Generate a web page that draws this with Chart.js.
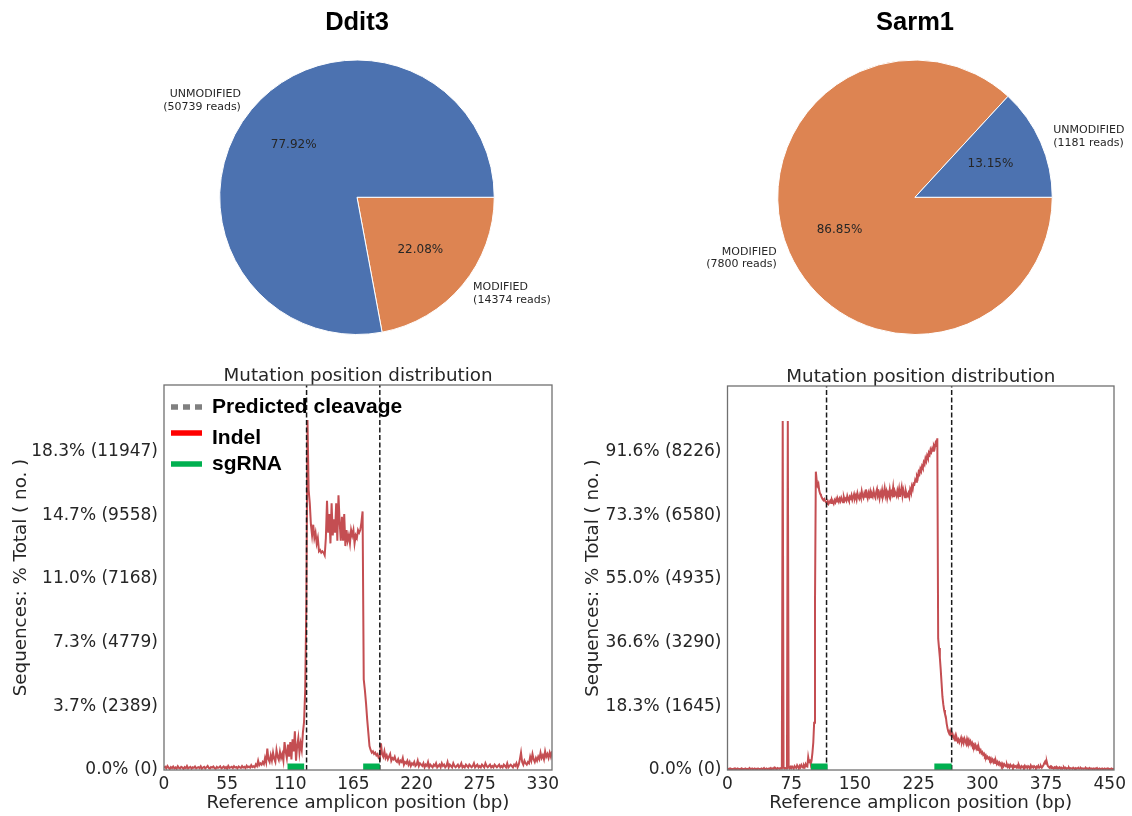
<!DOCTYPE html>
<html><head><meta charset="utf-8">
<script src="https://cdn.jsdelivr.net/npm/chart.js@4.4.1/dist/chart.umd.min.js"></script>
<style>
html,body{margin:0;padding:0;background:#fff;}
#wrap{position:relative;width:1132px;height:816px;overflow:hidden;background:#fff;}
canvas{position:absolute;}
</style></head><body>
<div id="wrap">
<canvas id="pieDdit3" width="416" height="345" style="left:150px;top:0px"></canvas>
<canvas id="pieSarm1" width="442" height="345" style="left:690px;top:0px"></canvas>
<canvas id="lineDdit3" width="570" height="461" style="left:0px;top:355px"></canvas>
<canvas id="lineSarm1" width="562" height="461" style="left:570px;top:355px"></canvas>
</div>
<script>
// ---------------- DATA ----------------
const geneNames = ['Ddit3', 'Sarm1'];
const pieCategories = ['MODIFIED', 'UNMODIFIED'];
const ddit3Reads = [14374, 50739];
const sarm1Reads = [7800, 1181];

const lineTitle = 'Mutation position distribution';
const xAxisTitle = 'Reference amplicon position (bp)';
const yAxisTitle = 'Sequences: % Total ( no. )';
const legendLabels = ['Predicted cleavage', 'Indel', 'sgRNA'];

// Ddit3 amplicon (338 bp)
const ddit3AmpliconLength = 338;
const ddit3XTicks = [0, 55, 110, 165, 220, 275, 330];
const ddit3YTicks = [0, 2389, 4779, 7168, 9558, 11947];
const ddit3YTickLabels = ['0.0% (0)', '3.7% (2389)', '7.3% (4779)', '11.0% (7168)', '14.7% (9558)', '18.3% (11947)'];
const ddit3YMax = 14441;
const ddit3Cuts = [124.2, 188];
const ddit3Guides = [[107.6, 122.1], [173.5, 188]];
const ddit3Indel = [
 80,120,60,150,90,40,110,70,130,60,
 100,50,140,80,60,120,90,40,110,70,
 150,60,90,120,50,100,80,130,60,90,
 110,70,140,50,90,120,60,100,150,80,
 60,110,90,130,70,50,120,80,100,140,
 60,90,130,70,110,50,150,80,100,120,
 70,140,90,110,60,130,100,80,150,90,
 120,70,160,100,130,90,180,110,140,100,
 210,150,350,180,250,200,300,220,450,280,
 800,400,300,550,350,650,420,300,750,500,
 380,680,450,600,350,1050,700,450,950,500,
 1050,400,1150,700,1450,350,900,1200,650,1000,
 750,1400,1800,3000,6200,13128,10500,10000,9200,8800,
 9200,8700,8900,8500,8700,8200,8250,8150,8200,8150,
 8050,8700,10100,8900,9600,8500,10000,8800,9400,8900,
 10000,8600,10300,9300,8600,9500,8600,9600,8400,9000,
 8600,8800,8500,9000,8800,9000,8500,8800,8700,9000,
 8900,9000,9300,9700,3400,3000,2500,1900,1400,900,
 750,650,700,600,650,550,600,450,400,1000,
 600,500,700,450,550,400,500,600,350,450,
 400,500,350,300,400,250,350,300,450,200,
 300,250,350,200,300,150,250,200,300,150,
 200,350,150,250,200,150,250,100,200,150,
 300,100,200,150,100,200,150,250,100,150,
 200,100,250,150,200,100,150,300,100,200,
 150,100,250,150,100,150,200,100,150,250,
 100,150,100,200,150,100,200,150,100,150,
 250,100,150,200,100,150,100,200,150,100,
 250,150,100,150,200,100,150,100,200,150,
 100,150,200,100,150,100,200,150,100,250,
 100,150,200,150,100,200,150,250,100,200,
 400,650,300,200,350,250,200,300,250,500,
 350,600,400,300,450,350,500,400,650,450,
 550,400,700,500,600,450,650,500,700
];

// Sarm1 amplicon (455 bp)
const sarm1AmpliconLength = 455;
const sarm1XTicks = [0, 75, 150, 225, 300, 375, 450];
const sarm1YTicks = [0, 1645, 3290, 4935, 6580, 8226];
const sarm1YTickLabels = ['0.0% (0)', '18.3% (1645)', '36.6% (3290)', '55.0% (4935)', '73.3% (6580)', '91.6% (8226)'];
const sarm1YMax = 9923;
const sarm1Cuts = [116.6, 263.9];
const sarm1Guides = [[98.2, 117.8], [243.5, 263.9]];
const sarm1Indel = [
 20,30,20,40,20,30,20,30,40,20,
 30,20,40,30,20,30,20,40,30,20,
 30,40,20,30,20,30,50,20,30,40,
 20,30,40,20,30,20,40,30,20,30,
 40,20,30,50,20,30,40,20,30,40,
 30,50,20,40,30,60,30,40,20,50,
 40,30,50,40,60,9021,60,40,50,40,
 50,9021,60,40,80,50,90,60,40,100,
 70,50,120,80,60,110,70,130,90,60,
 120,80,150,100,90,330,200,280,150,250,
 450,710,1220,4300,7710,7480,7350,7400,7220,7140,
 7100,7040,7000,6970,7000,6950,6920,6900,6950,6880,
 6920,6960,6900,6980,6930,6880,6970,6920,7000,6940,
 6990,6930,7010,6950,7040,6980,6920,7050,6970,7010,
 6960,7080,7000,6950,7060,7020,7100,6980,7050,7130,
 7020,7090,6990,7150,7060,7010,7110,7040,7200,7080,
 7030,7140,7060,7250,7100,7020,7160,7080,7190,7050,
 7130,7070,7210,7100,7040,7180,7260,7090,7150,7020,
 7170,7100,7230,7060,7140,7280,7090,7190,7030,7160,
 7100,7250,7070,7180,7120,7300,7050,7200,7140,7080,
 7220,7110,7260,7060,7190,7310,7090,7240,7150,7050,
 7200,7110,7080,7150,7060,7250,7180,7330,7250,7400,
 7380,7500,7450,7600,7550,7700,7650,7780,7720,7850,
 7800,7950,7900,8050,7980,8120,8060,8200,8150,8280,
 8220,8310,8250,8380,8330,8450,8400,8570,3400,3150,
 2900,2600,2250,1900,1700,1550,1450,1380,1200,1080,
 990,940,1010,900,870,930,850,800,880,760,
 820,740,790,710,760,830,720,790,700,810,
 750,680,800,720,780,690,740,650,700,620,
 660,580,640,550,600,520,560,470,510,430,
 460,390,420,350,380,310,340,290,320,260,
 300,230,270,200,250,180,230,160,210,150,
 190,130,170,110,160,100,150,120,90,140,
 80,120,70,130,90,110,60,120,80,100,
 70,110,60,130,80,50,100,70,90,60,
 110,70,90,50,100,80,60,120,70,90,
 60,100,80,50,90,70,110,60,80,100,
 60,90,130,180,220,160,200,110,80,60,
 90,50,80,60,40,70,50,80,40,60,
 50,70,40,60,30,50,70,40,60,30,
 50,40,60,30,50,40,30,60,40,30,
 50,30,40,60,30,40,50,30,40,30,
 40,30,50,30,40,20,50,30,40,30,
 30,40,20,40,30,50,20,30,40,20,
 30,40,20,30,40,20,30,40,20,30,
 20,30,40,20,30,20
];

// ---------------- STYLE ----------------
const FONT = 'DejaVu Sans';
const BOLD_FONT = 'Liberation Sans';
const TEXT = '#262626';
const pieColors = ['#DD8452', '#4C72B0'];
const indelColor = '#C44E52';
const guideColor = '#00B050';
const cutColor = '#1a1a1a';
const legendColors = ['#808080', '#FF0000', '#00B050'];

Chart.defaults.font.family = FONT;
Chart.defaults.color = TEXT;

// ---------------- PLUGINS ----------------
const pieText = {
  id: 'pieText',
  afterDatasetsDraw(chart) {
    const ctx = chart.ctx;
    const ds = chart.data.datasets[0];
    const total = ds.data.reduce((a, b) => a + b, 0);
    const meta = chart.getDatasetMeta(0);
    meta.data.forEach((arc, i) => {
      const p = arc.getProps(['x', 'y', 'startAngle', 'endAngle', 'outerRadius'], true);
      const mid = (p.startAngle + p.endAngle) / 2;
      const c = Math.cos(mid), s = Math.sin(mid);
      ctx.save();
      ctx.fillStyle = TEXT;
      ctx.textBaseline = 'middle';
      // percentage
      ctx.font = '12px "' + FONT + '"';
      ctx.textAlign = 'center';
      ctx.fillText((ds.data[i] / total * 100).toFixed(2) + '%', p.x + c * p.outerRadius * 0.6, p.y + s * p.outerRadius * 0.6);
      // label
      ctx.font = '11px "' + FONT + '"';
      const lx = p.x + c * p.outerRadius * 1.1, ly = p.y + s * p.outerRadius * 1.1;
      ctx.textAlign = c >= 0 ? 'left' : 'right';
      ctx.fillText(chart.data.labels[i], lx, ly - 6.2);
      ctx.fillText('(' + ds.data[i] + ' reads)', lx, ly + 6.2);
      ctx.restore();
    });
  }
};

const frame = {
  id: 'frame',
  afterDatasetsDraw(chart) {
    const ca = chart.chartArea, ctx = chart.ctx;
    ctx.save();
    ctx.strokeStyle = '#707070';
    ctx.lineWidth = 1.3;
    ctx.strokeRect(ca.left, ca.top, ca.right - ca.left, ca.bottom - ca.top);
    ctx.restore();
  }
};

const lineLegend = {
  id: 'lineLegend',
  afterDraw(chart) {
    const ca = chart.chartArea, ctx = chart.ctx;
    const handleY = [22, 48, 79];
    const textY = [22, 53.5, 79];
    ctx.save();
    legendLabels.forEach((lab, i) => {
      ctx.beginPath();
      ctx.strokeStyle = legendColors[i];
      ctx.lineWidth = 5.5;
      ctx.lineCap = 'butt';
      ctx.setLineDash(i === 0 ? [7, 5] : []);
      ctx.moveTo(ca.left + 7, ca.top + handleY[i]);
      ctx.lineTo(ca.left + 38, ca.top + handleY[i]);
      ctx.stroke();
      ctx.setLineDash([]);
      ctx.fillStyle = '#000';
      ctx.font = 'bold 21px "' + BOLD_FONT + '"';
      ctx.textAlign = 'left';
      ctx.textBaseline = 'middle';
      ctx.fillText(lab, ca.left + 48, ca.top + textY[i]);
    });
    ctx.restore();
  }
};

// ---------------- CHARTS ----------------
function makePie(id, gene, reads, padL, padR) {
  return new Chart(document.getElementById(id), {
    type: 'pie',
    data: {
      labels: pieCategories,
      datasets: [{ data: reads, backgroundColor: pieColors, borderColor: '#ffffff', borderWidth: 1, hoverOffset: 0 }]
    },
    options: {
      responsive: false, animation: false, devicePixelRatio: 1,
      rotation: 90,
      layout: { padding: { left: padL, right: padR, top: 0, bottom: 10 } },
      plugins: {
        legend: { display: false },
        tooltip: { enabled: false },
        title: {
          display: true, text: gene, fullSize: false, color: '#000',
          font: { family: BOLD_FONT, size: 25.5, weight: 'bold', lineHeight: 1 },
          padding: { top: 10.5, bottom: 23.5 }
        }
      }
    },
    plugins: [pieText]
  });
}

function makeLine(id, cfg) {
  const datasets = [];
  cfg.guides.forEach(g => datasets.push({
    data: g.map(x => ({ x: x, y: 0 })), borderColor: guideColor, borderWidth: 13,
    borderCapStyle: 'butt', pointRadius: 0, clip: 0, order: 0
  }));
  cfg.cuts.forEach(c => datasets.push({
    data: [{ x: c, y: 0 }, { x: c, y: cfg.yMax }], borderColor: cutColor, borderWidth: 1.5,
    borderDash: [5, 2.5], pointRadius: 0, clip: 0, order: 1
  }));
  datasets.push({
    data: cfg.indel.map((v, i) => ({ x: i, y: v })), borderColor: indelColor, borderWidth: 2,
    pointRadius: 0, tension: 0, order: 2
  });
  const plugins = [frame];
  if (cfg.legend) plugins.push(lineLegend);
  return new Chart(document.getElementById(id), {
    type: 'line',
    data: { datasets: datasets },
    options: {
      responsive: false, animation: false, devicePixelRatio: 1,
      layout: { padding: { left: 0, right: 18, top: 0, bottom: 0 } },
      plugins: {
        legend: { display: false },
        tooltip: { enabled: false },
        title: {
          display: true, text: lineTitle, fullSize: false, color: TEXT,
          font: { family: FONT, size: 18.3, weight: 'normal', lineHeight: 1 },
          padding: { top: cfg.titlePad, bottom: 0 }
        }
      },
      scales: {
        x: {
          type: 'linear', min: 0, max: cfg.xMax,
          grid: { display: false, drawTicks: false }, border: { display: false },
          afterBuildTicks: s => { s.ticks = cfg.xTicks.map(v => ({ value: v })); },
          ticks: { font: { family: FONT, size: 17 }, color: TEXT, padding: 4, maxRotation: 0, autoSkip: false, callback: v => String(v) },
          title: { display: true, text: xAxisTitle, color: TEXT, font: { family: FONT, size: 18.3, lineHeight: 1.2 }, padding: { top: 0, bottom: 2 } },
          afterFit: s => { s.height = 46; }
        },
        y: {
          type: 'linear', min: 0, max: cfg.yMax,
          grid: { display: false, drawTicks: false }, border: { display: false },
          afterBuildTicks: s => { s.ticks = cfg.yTicks.map(v => ({ value: v })); },
          ticks: { font: { family: FONT, size: 17 }, color: TEXT, padding: 6, autoSkip: false, callback: (v, i) => cfg.yLabels[i] },
          title: { display: true, text: yAxisTitle, color: TEXT, font: { family: FONT, size: 18.3, lineHeight: 1.2 }, padding: { top: cfg.yTitlePad, bottom: 0 } },
          afterFit: s => { s.width = cfg.yWidth; }
        }
      }
    },
    plugins: plugins
  });
}

makePie('pieDdit3', geneNames[0], ddit3Reads, 69, 71);
makePie('pieSarm1', geneNames[1], sarm1Reads, 87, 79);

makeLine('lineDdit3', {
  indel: ddit3Indel, cuts: ddit3Cuts, guides: ddit3Guides, xMax: ddit3AmpliconLength, yMax: ddit3YMax,
  xTicks: ddit3XTicks, yTicks: ddit3YTicks, yLabels: ddit3YTickLabels,
  yWidth: 164, yTitlePad: 10.7, titlePad: 11.7, legend: true
});
makeLine('lineSarm1', {
  indel: sarm1Indel, cuts: sarm1Cuts, guides: sarm1Guides, xMax: sarm1AmpliconLength, yMax: sarm1YMax,
  xTicks: sarm1XTicks, yTicks: sarm1YTicks, yLabels: sarm1YTickLabels,
  yWidth: 157.5, yTitlePad: 12, titlePad: 12.7, legend: false
});
</script>
</body></html>
